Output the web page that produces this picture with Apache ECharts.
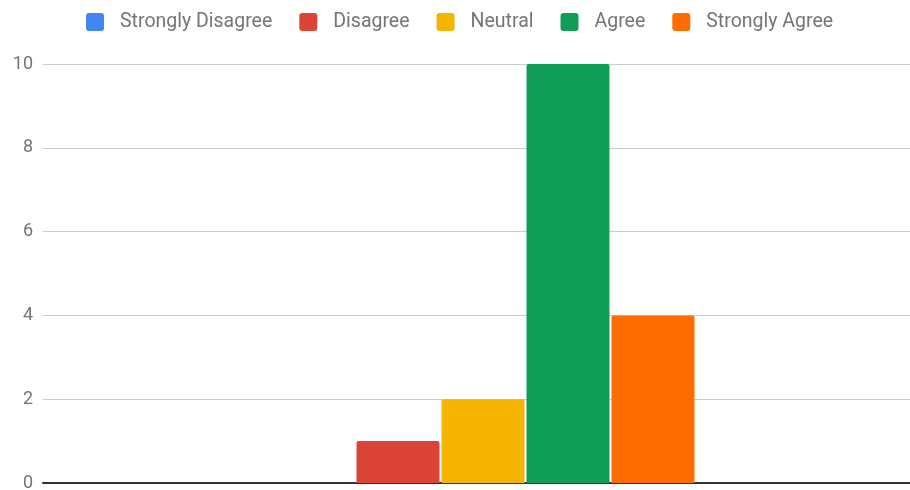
<!DOCTYPE html>
<html>
<head>
<meta charset="utf-8">
<script src="https://cdn.jsdelivr.net/npm/echarts@6/dist/echarts.min.js"></script>
<style>
  html, body { margin: 0; padding: 0; background: #fff; }
  #chart { width: 910px; height: 490px; }
</style>
</head>
<body>
<div id="chart"></div>
<script>
// Survey responses, one bar per answer
const categories = [''];
const seriesNames = ['Strongly Disagree', 'Disagree', 'Neutral', 'Agree', 'Strongly Agree'];
const seriesValues = [0, 1, 2, 10, 4];
const seriesColors = ['#4285F4', '#DB4437', '#F4B400', '#0F9D58', '#FF6D00'];
const yTicks = [0, 2, 4, 6, 8, 10];

// small rounded square for legend swatches
const swatch = 'path://M3,0 H15 Q18,0 18,3 V15 Q18,18 15,18 H3 Q0,18 0,15 V3 Q0,0 3,0 Z';

const chart = echarts.init(document.getElementById('chart'));

const series = seriesNames.map((name, i) => ({
  name: name,
  type: 'bar',
  data: [seriesValues[i]],
  barWidth: 83,
  barGap: '2.4%',
  itemStyle: { color: seriesColors[i], borderRadius: [2, 2, 0, 0] },
  emphasis: { disabled: true }
}));

chart.setOption({
  animation: false,
  textStyle: { fontFamily: 'Roboto' },
  legend: {
    top: 12,
    left: 86,
    padding: 0,
    itemWidth: 18,
    itemHeight: 18,
    itemGap: 27,
    icon: swatch,
    data: seriesNames,
    textStyle: {
      fontFamily: 'Roboto',
      fontSize: 19.5,
      color: '#757575',
      padding: [0, 0, 0, 11]
    }
  },
  grid: {
    left: 43,
    width: 880,
    top: 64,
    bottom: 7,
    containLabel: false,
    outerBoundsMode: 'none'
  },
  xAxis: {
    type: 'category',
    data: categories,
    axisLine: { show: true, lineStyle: { color: '#333', width: 2 } },
    axisTick: { show: false },
    axisLabel: { show: false }
  },
  yAxis: {
    type: 'value',
    min: yTicks[0],
    max: yTicks[yTicks.length - 1],
    interval: 2,
    axisLine: { show: false },
    axisTick: { show: false },
    axisLabel: {
      margin: 10,
      fontFamily: 'Roboto',
      fontSize: 18,
      color: '#757575'
    },
    splitLine: { lineStyle: { color: '#cccccc', width: 1 } }
  },
  series: series
});
</script>
</body>
</html>
